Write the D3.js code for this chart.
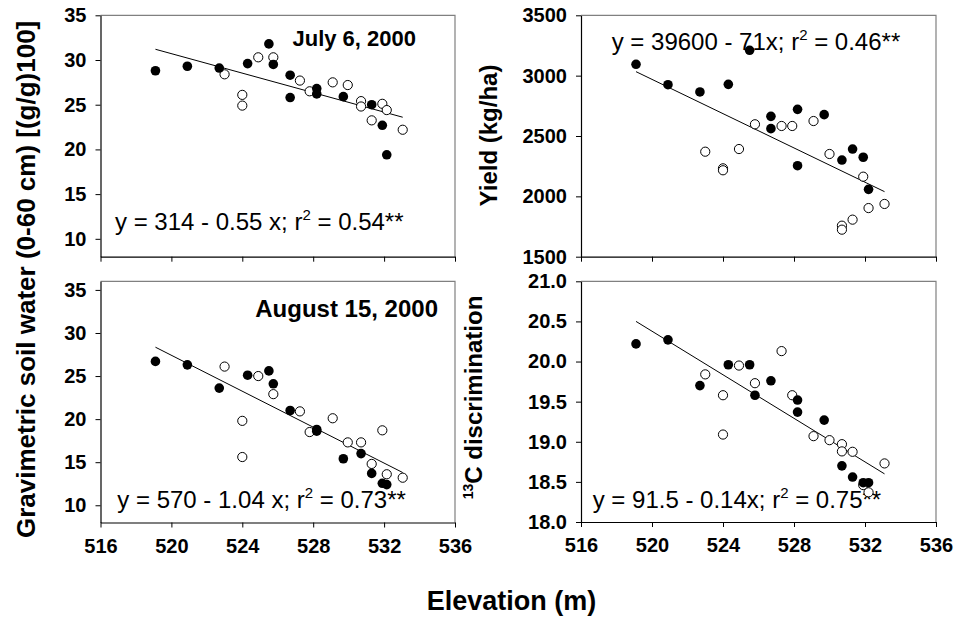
<!DOCTYPE html>
<html>
<head>
<meta charset="utf-8">
<script src="https://cdn.jsdelivr.net/npm/d3@7"></script>
<style>
  body { margin: 0; background: #fff; }
  svg text { font-family: "Liberation Sans", Arial, sans-serif; }
</style>
</head>
<body>
<div id="chart"></div>
<script>
// elevation axis, shared by all four panels
const elevDomain = [516, 536];
const elevTicks = [516, 520, 524, 528, 532, 536];

// tick values for each y axis
const waterTicks = [10, 15, 20, 25, 30, 35];
const yieldTicks = [1500, 2000, 2500, 3000, 3500];
const discTicks = [18.0, 18.5, 19.0, 19.5, 20.0, 20.5, 21.0];

// July 6, 2000 soil water [elevation, value]
const julyFilled = [[519.1, 28.8], [520.9, 29.3], [522.7, 29.1], [524.3, 29.6], [525.5, 31.8], [525.75, 29.5],
  [526.7, 28.3], [526.7, 25.8], [528.2, 26.8], [528.2, 26.2], [529.7, 25.9], [531.3, 25.0], [531.9, 22.7], [532.15, 19.4]];
const julyOpen = [[523.0, 28.4], [524.0, 26.1], [524.0, 24.9], [524.9, 30.3], [525.75, 30.3], [527.25, 27.7],
  [527.8, 26.5], [529.1, 27.5], [529.95, 27.2], [530.7, 25.4], [530.7, 24.8], [531.3, 23.25], [531.9, 25.1],
  [532.15, 24.4], [533.05, 22.2]];
const julyFit = [[519.1, 31.2], [533.05, 23.6]];

// August 15, 2000 soil water
const augFilled = [[519.1, 26.7], [520.9, 26.3], [522.7, 23.6], [524.3, 25.1], [525.5, 25.6], [525.75, 24.1],
  [526.7, 21.0], [528.2, 18.8], [528.2, 18.6], [529.7, 15.4], [530.7, 16.0], [531.3, 13.7], [531.9, 12.55], [532.15, 12.4]];
const augOpen = [[523.0, 26.1], [524.0, 19.8], [524.0, 15.6], [524.9, 25.0], [525.75, 22.9], [527.25, 20.9],
  [527.8, 18.5], [529.1, 20.1], [529.95, 17.3], [530.7, 17.3], [531.3, 14.8], [531.9, 18.7], [532.15, 13.6], [533.05, 13.2]];
const augFit = [[519.1, 28.35], [533.05, 13.8]];

// yield (kg/ha)
const yieldFilled = [[519.1, 3094], [520.9, 2925], [522.7, 2865], [524.3, 2928], [525.5, 3210], [526.7, 2663],
  [526.7, 2561], [528.2, 2721], [528.2, 2254], [529.7, 2677], [530.7, 2301], [531.3, 2392], [531.9, 2324], [532.2, 2058]];
const yieldOpen = [[523.0, 2370], [524.0, 2232], [524.0, 2216], [524.9, 2392], [525.8, 2597], [527.3, 2583],
  [527.9, 2583], [529.1, 2624], [530.0, 2351], [530.7, 1757], [530.7, 1724], [531.3, 1807], [531.9, 2163],
  [532.2, 1903], [533.1, 1937]];
const yieldFit = [[519.1, 3033], [533.1, 2039]];

// 13C discrimination
const discFilled = [[519.1, 20.22], [520.9, 20.27], [522.7, 19.70], [524.3, 19.96], [525.5, 19.96], [525.8, 19.58],
  [526.7, 19.76], [528.2, 19.52], [528.2, 19.37], [529.7, 19.27], [530.7, 18.70], [531.3, 18.56], [531.9, 18.49], [532.2, 18.49]];
const discOpen = [[523.0, 19.84], [524.0, 19.58], [524.0, 19.09], [524.9, 19.95], [525.8, 19.73], [527.3, 20.13],
  [527.9, 19.58], [529.1, 19.07], [530.0, 19.02], [530.7, 18.97], [530.7, 18.88], [531.3, 18.875], [531.9, 18.46],
  [532.2, 18.37], [533.1, 18.73]];
const discFit = [[519.1, 20.5], [533.1, 18.6]];

// regression equations: [before superscript, superscript, after]
const julyEq = ["y = 314 - 0.55 x; r", "2", " = 0.54**"];
const augEq = ["y = 570 - 1.04 x; r", "2", " = 0.73**"];
const yieldEq = ["y = 39600 - 71x; r", "2", " = 0.46**"];
const discEq = ["y = 91.5 - 0.14x; r", "2", " = 0.75**"];

const width = 956;
const height = 619;
const font = "'Liberation Sans', Arial, sans-serif";

const svg = d3.select("#chart")
  .append("svg")
  .attr("width", width)
  .attr("height", height);

const panels = [
  {left: 100.5, right: 455, top: 15.3, bottom: 256.7, domain: [8, 35], ticks: waterTicks, fmt: d3.format("d"),
    filled: julyFilled, open: julyOpen, fit: julyFit, eq: julyEq, eqX: 115, eqY: 230,
    title: "July 6, 2000", titleX: 416, titleY: 46, titleSize: 22, xLabels: false},
  {left: 581, right: 936, top: 15.3, bottom: 256.7, domain: [1500, 3500], ticks: yieldTicks, fmt: d3.format("d"),
    filled: yieldFilled, open: yieldOpen, fit: yieldFit, eq: yieldEq, eqX: 611.7, eqY: 50, xLabels: false},
  {left: 100.5, right: 455, top: 281.3, bottom: 522.5, domain: [8, 36], ticks: waterTicks, fmt: d3.format("d"),
    filled: augFilled, open: augOpen, fit: augFit, eq: augEq, eqX: 117.3, eqY: 508.3,
    title: "August 15, 2000", titleX: 438, titleY: 316.7, titleSize: 24, xLabels: true},
  {left: 581, right: 936, top: 281.3, bottom: 522, domain: [18, 21], ticks: discTicks, fmt: d3.format(".1f"),
    filled: discFilled, open: discOpen, fit: discFit, eq: discEq, eqX: 592.7, eqY: 508.3, xLabels: true}
];

panels.forEach(p => {
  const x = d3.scaleLinear().domain(elevDomain).range([p.left, p.right]);
  const y = d3.scaleLinear().domain(p.domain).range([p.bottom, p.top]);
  const g = svg.append("g");

  // gray frame on top and right
  g.append("path")
    .attr("d", `M${p.left},${p.top}H${p.right}V${p.bottom}`)
    .attr("fill", "none")
    .attr("stroke", "#808080")
    .attr("stroke-width", 1.2);

  // y axis
  const ya = g.append("g")
    .attr("transform", `translate(${p.left},0)`)
    .call(d3.axisLeft(y).tickValues(p.ticks).tickFormat(p.fmt).tickSize(5).tickSizeOuter(0).tickPadding(9));

  // x axis
  const xa = g.append("g")
    .attr("transform", `translate(0,${p.bottom})`)
    .call(d3.axisBottom(x).tickValues(elevTicks).tickSize(5).tickSizeOuter(0).tickPadding(11)
      .tickFormat(p.xLabels ? d3.format("d") : ""));

  [ya, xa].forEach(a => {
    a.select(".domain").attr("stroke", "#000").attr("stroke-width", 1.2);
    a.selectAll(".tick line").attr("stroke", "#000");
    a.selectAll("text")
      .attr("font-family", font)
      .attr("font-size", 20)
      .attr("font-weight", "bold")
      .attr("fill", "#000");
  });

  // equation text (points are drawn over it)
  const eq = g.append("text")
    .attr("x", p.eqX)
    .attr("y", p.eqY)
    .attr("font-size", 24)
    .attr("fill", "#000");
  eq.append("tspan").text(p.eq[0]);
  eq.append("tspan").attr("font-size", 15).attr("dy", -10).text(p.eq[1]);
  eq.append("tspan").attr("dy", 10).text(p.eq[2]);

  if (p.title) {
    g.append("text")
      .attr("x", p.titleX)
      .attr("y", p.titleY)
      .attr("text-anchor", "end")
      .attr("font-size", p.titleSize)
      .attr("font-weight", "bold")
      .text(p.title);
  }

  // regression line
  g.append("path")
    .datum(p.fit)
    .attr("fill", "none")
    .attr("stroke", "#000")
    .attr("stroke-width", 1)
    .attr("d", d3.line().x(d => x(d[0])).y(d => y(d[1])));

  // open then filled symbols
  g.append("g").selectAll("circle")
    .data(p.open)
    .join("circle")
    .attr("cx", d => x(d[0]))
    .attr("cy", d => y(d[1]))
    .attr("r", 4.6)
    .attr("fill", "#fff")
    .attr("stroke", "#000")
    .attr("stroke-width", 1);

  g.append("g").selectAll("circle")
    .data(p.filled)
    .join("circle")
    .attr("cx", d => x(d[0]))
    .attr("cy", d => y(d[1]))
    .attr("r", 4.8)
    .attr("fill", "#000");
});

// y axis titles
svg.append("text")
  .attr("transform", "translate(35,538) rotate(-90)")
  .attr("font-size", 26)
  .attr("font-weight", "bold")
  .text("Gravimetric soil water (0-60 cm) [(g/g)100]");

svg.append("text")
  .attr("transform", "translate(497,135.5) rotate(-90)")
  .attr("text-anchor", "middle")
  .attr("font-size", 24)
  .attr("font-weight", "bold")
  .text("Yield (kg/ha)");

const disc = svg.append("text")
  .attr("transform", "translate(481.5,397.5) rotate(-90)")
  .attr("text-anchor", "middle")
  .attr("font-size", 24)
  .attr("font-weight", "bold");
disc.append("tspan").attr("font-size", 14).attr("dy", -9).text("13");
disc.append("tspan").attr("dy", 9).text("C discrimination");

// x axis title
svg.append("text")
  .attr("x", 511.5)
  .attr("y", 610)
  .attr("text-anchor", "middle")
  .attr("font-size", 27)
  .attr("font-weight", "bold")
  .text("Elevation (m)");
</script>
</body>
</html>
